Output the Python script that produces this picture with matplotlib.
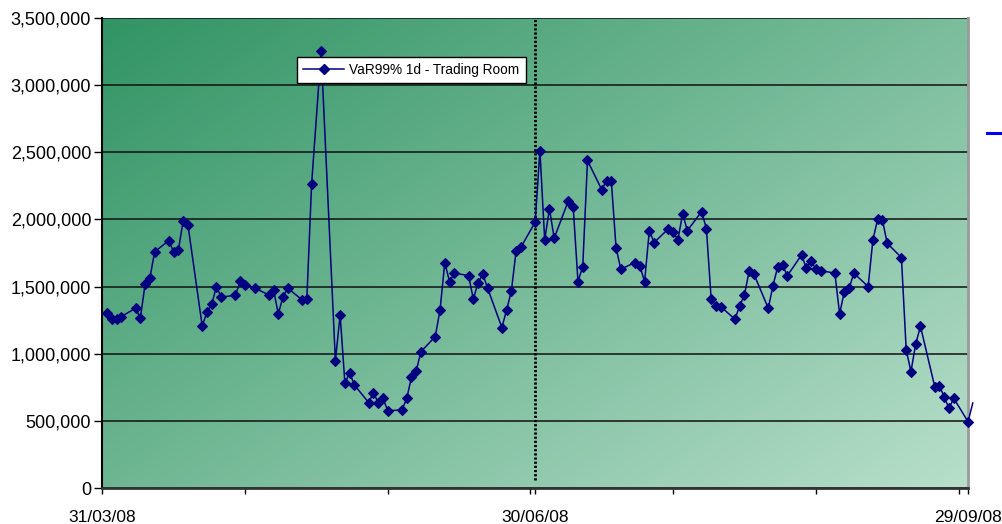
import numpy as np
import pandas as pd
import matplotlib
matplotlib.use('Agg')
import matplotlib.pyplot as plt
import matplotlib.dates as mdates
from matplotlib.lines import Line2D
from matplotlib.ticker import FuncFormatter, MultipleLocator

plt.rcParams['font.family'] = ['Liberation Sans', 'DejaVu Sans']

# trading days Apr-Sep 2008 (no figure on 1 May and 15 May)
dates = pd.bdate_range('2008-04-01', '2008-09-30').drop(pd.to_datetime(['2008-05-01', '2008-05-15']))

# VaR 99% 1 day, trading room (EUR)
var99 = np.array([
    # April
    1300000, 1257000, 1257000, 1277000, 1339000, 1264000, 1520000, 1562000, 1759000, 1843000, 1756000,
    1773000, 1990000, 1960000, 1207000, 1309000, 1369000, 1500000, 1421000, 1436000, 1540000, 1515000,
    # May
    1490000, 1438000, 1475000, 1297000, 1426000, 1488000, 1401000, 1408000, 2263000, 3251000,
    949000, 1289000, 780000, 859000, 767000, 636000, 710000, 636000, 668000, 576000,
    # June
    581000, 668000, 825000, 874000, 1016000, 1128000, 1326000, 1679000, 1537000, 1600000, 1582000,
    1406000, 1530000, 1592000, 1488000, 1195000, 1326000, 1468000, 1768000, 1793000, 1980000,
    # July
    2513000, 1848000, 2079000, 1861000, 2141000, 2089000, 1537000, 1649000, 2439000, 2221000, 2290000, 2290000,
    1791000, 1630000, 1679000, 1655000, 1537000, 1917000, 1828000, 1930000, 1910000, 1848000, 2042000,
    # August
    1917000, 2059000, 1930000, 1408000, 1358000, 1351000, 1257000, 1358000, 1438000, 1619000, 1592000,
    1339000, 1507000, 1649000, 1662000, 1580000, 1736000, 1637000, 1692000, 1632000, 1619000,
    # September
    1600000, 1297000, 1463000, 1488000, 1600000, 1500000, 1848000, 2002000, 1997000, 1823000, 1716000,
    1028000, 867000, 1073000, 1204000, 755000, 762000, 676000, 594000, 668000, 494000, 633000,
])

series_label = 'VaR99% 1d - Trading Room'
start, end = pd.Timestamp('2008-03-31'), pd.Timestamp('2008-09-29')
quarter_end = pd.Timestamp('2008-06-30')
label_dates = pd.to_datetime(['2008-03-31', '2008-06-30', '2008-09-29'])
minor_dates = pd.to_datetime(['2008-04-30', '2008-05-30', '2008-06-29', '2008-07-29', '2008-08-28', '2008-09-27'])

navy = '#000080'

fig = plt.figure(figsize=(10.02, 5.24), dpi=100)
ax = fig.add_axes([0.1021, 0.0687, 0.8640, 0.8969])

# line runs to the last point, markers only inside the axis range
ax.plot(dates, var99, color=navy, lw=1.1, clip_on=False, zorder=3)
shown = dates <= end
ax.plot(dates[shown], var99[shown], ls='none', marker='D', ms=4.6, mfc=navy, mec=navy, mew=0.8,
        clip_on=False, zorder=4)

ax.axvline(quarter_end, ymin=0.017, ymax=1, color='black', lw=2.0, ls=(0, (0.8, 0.7)), zorder=2)

# diagonal green gradient for the plot area
u = np.linspace(0, 1, 400)
v = np.linspace(0, 1, 200)
U, V = np.meshgrid(u, v)
t = 0.55 * U + 0.45 * V
c0 = np.array([0x31, 0x94, 0x64]) / 255
c1 = np.array([0xb8, 0xdf, 0xcb]) / 255
grad = c0[None, None, :] * (1 - t[..., None]) + c1[None, None, :] * t[..., None]
ax.imshow(grad, extent=[0, 1, 0, 1], transform=ax.transAxes, aspect='auto', origin='upper',
          interpolation='bilinear', zorder=0)

ax.set_xlim(start, end)
ax.set_ylim(0, 3500000)

ax.yaxis.set_major_locator(MultipleLocator(500000))
ax.yaxis.set_major_formatter(FuncFormatter(lambda x, p: f'{x:,.0f}'))
ax.grid(axis='y', color='#111111', lw=1.1, zorder=1)
ax.set_axisbelow(True)

ax.set_xticks(label_dates)
ax.xaxis.set_major_formatter(mdates.DateFormatter('%d/%m/%y'))
ax.set_xticks(minor_dates, minor=True)

ax.tick_params(axis='y', labelsize=13, length=6, width=1, pad=2)
ax.tick_params(axis='x', which='both', length=4, width=1)
ax.tick_params(axis='x', labelsize=12.5, pad=12)

ax.spines['top'].set_visible(False)
ax.spines['left'].set_linewidth(1.5)
ax.spines['bottom'].set_color('#333333')
ax.spines['bottom'].set_linewidth(2)
ax.spines['right'].set_color('#9a9a9a')
ax.spines['right'].set_linewidth(2)

handle = Line2D([], [], color=navy, lw=1.1, marker='D', ms=5, mfc=navy, mec=navy)
leg = ax.legend([handle], [series_label], loc='upper left', bbox_to_anchor=(0.225, 0.917),
                borderaxespad=0, fontsize=9.8, frameon=True, fancybox=False, framealpha=1,
                edgecolor='black', borderpad=0.45, handlelength=3.0, handletextpad=0.4)
leg.get_frame().set_linewidth(1)
leg.set_zorder(6)

# stray series marker at the right edge of the chart area
fig.add_artist(Line2D([0.985, 1.0], [0.746, 0.746], color='#0000ee', lw=2.2))

fig.savefig('out.png', dpi=100)
